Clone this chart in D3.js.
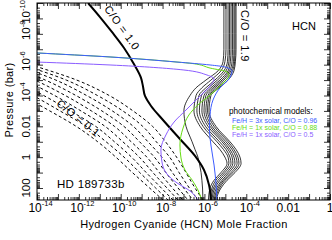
<!DOCTYPE html>
<html>
<head>
<meta charset="utf-8">
<script src="https://cdn.jsdelivr.net/npm/d3@7"></script>
<style>
  body { margin: 0; background: #fff; }
  text { font-family: "Liberation Sans", Arial, Helvetica, sans-serif; fill: #000; }
</style>
</head>
<body>
<svg id="chart" width="332" height="240"></svg>
<script>
'use strict';

// all values are log10: mole fraction (x) and pressure in bar (y)

// thermochemical profiles, C/O = 1.1 ... 1.9 (thin solid), on a shared pressure grid
var solidLogP = [-10, -8, -7, -6.2, -5.6, -5, -4.5, -4, -3, -2, -1, -0.5, 0, 0.4, 1, 1.5, 2, 2.78];
var co11 = [-5.07, -5.07, -5.07, -5.11, -5.35, -5.93, -6.40, -6.69, -6.98, -6.88, -6.59, -6.45, -6.31, -6.24, -6.16, -6.12, -6.09, -6.07];
var co12 = [-4.97, -4.97, -4.97, -5.02, -5.21, -5.69, -6.12, -6.40, -6.50, -6.21, -5.59, -5.26, -5.02, -4.92, -5.21, -5.54, -5.73, -5.81];
var co13 = [-4.87, -4.87, -4.87, -4.90, -5.07, -5.50, -5.93, -6.26, -6.36, -6.07, -5.40, -5.09, -4.87, -4.83, -5.11, -5.45, -5.64, -5.73];
var co14 = [-4.80, -4.80, -4.80, -4.83, -4.97, -5.38, -5.81, -6.14, -6.24, -5.95, -5.28, -4.97, -4.78, -4.73, -5.02, -5.35, -5.57, -5.69];
var co15 = [-4.73, -4.73, -4.73, -4.76, -4.87, -5.26, -5.69, -6.02, -6.12, -5.83, -5.16, -4.87, -4.68, -4.64, -4.92, -5.26, -5.50, -5.64];
var co16 = [-4.66, -4.66, -4.66, -4.68, -4.80, -5.16, -5.59, -5.93, -6.02, -5.73, -5.07, -4.78, -4.59, -4.54, -4.83, -5.16, -5.42, -5.59];
var co17 = [-4.59, -4.59, -4.59, -4.61, -4.73, -5.07, -5.50, -5.83, -5.93, -5.64, -4.97, -4.68, -4.49, -4.44, -4.73, -5.09, -5.35, -5.54];
var co18 = [-4.54, -4.54, -4.54, -4.56, -4.66, -4.97, -5.40, -5.76, -5.85, -5.54, -4.87, -4.59, -4.40, -4.35, -4.64, -5.02, -5.28, -5.50];
var co19 = [-4.49, -4.49, -4.49, -4.52, -4.59, -4.87, -5.30, -5.69, -5.78, -5.45, -4.78, -4.49, -4.30, -4.25, -4.54, -4.92, -5.21, -5.45];

// C/O = 0.1 ... 0.9 (dashed)
var dashLogP = [-7, -6, -5, -4, -3, -2, -1, 0, 1, 2, 2.78];
var co01 = [-18.70, -17.40, -16.10, -14.74, -13.39, -12.13, -11.10, -10.23, -9.44, -8.62, -7.98];
var co02 = [-18.44, -17.01, -15.60, -14.19, -12.90, -11.65, -10.70, -9.84, -9.09, -8.33, -7.74];
var co03 = [-18.18, -16.63, -15.10, -13.68, -12.40, -11.20, -10.30, -9.48, -8.78, -8.06, -7.50];
var co04 = [-17.91, -16.24, -14.60, -13.16, -11.90, -10.75, -9.90, -9.11, -8.46, -7.79, -7.26];
var co05 = [-17.65, -15.85, -14.10, -12.65, -11.40, -10.30, -9.50, -8.75, -8.15, -7.53, -7.03];
var co06 = [-17.39, -15.46, -13.60, -12.14, -10.90, -9.85, -9.10, -8.39, -7.84, -7.26, -6.79];
var co07 = [-17.13, -15.08, -13.10, -11.63, -10.40, -9.40, -8.70, -8.03, -7.53, -6.99, -6.55];
var co08 = [-16.86, -14.69, -12.60, -11.11, -9.90, -8.95, -8.30, -7.66, -7.21, -6.72, -6.31];
var co09 = [-16.60, -14.30, -12.10, -10.55, -9.41, -8.48, -7.86, -7.33, -6.88, -6.45, -6.07];

// C/O = 1.0 (thick), [logX, logP]
var co10 = [[-11.56, -10], [-10.99, -9.09], [-10.42, -8.12], [-9.84, -7.08], [-9.37, -6.04], [-9.03, -5.14],
  [-8.94, -4.62], [-8.84, -3.97], [-8.55, -3.32], [-7.98, -2.41], [-7.17, -1.18], [-6.45, -0.08],
  [-6.02, 0.83], [-5.78, 1.80], [-5.69, 2.78]];

// photochemical models, [logX, logP]
var photo3xSolar096 = [[-14.81, -6.82], [-14.0, -6.76], [-10.51, -6.50], [-7.31, -6.17], [-5.73, -5.98], [-5.02, -5.85],
  [-4.68, -5.59], [-4.83, -5.07], [-5.26, -4.49], [-5.59, -3.71], [-5.73, -2.74], [-5.76, -1.76], [-5.69, -0.79],
  [-5.54, 0.51], [-5.45, 1.67], [-5.40, 2.78]];
var photo1xSolar088 = [[-14.81, -6.82], [-14.0, -6.76], [-10.51, -6.50], [-7.31, -6.17], [-6.55, -6.07], [-5.73, -5.78],
  [-4.92, -5.53], [-4.83, -5.27], [-5.16, -4.75], [-5.73, -4.03], [-6.31, -3.39], [-6.74, -2.74], [-7.02, -1.89],
  [-7.17, -0.79], [-7.12, 0.05], [-6.93, 0.83], [-6.59, 1.48], [-6.31, 2.13], [-6.12, 2.78]];
var photo1xSolar05 = [[-14.81, -6.21], [-14.0, -6.17], [-10.51, -5.98], [-7.02, -5.66], [-5.88, -5.33], [-5.54, -5.07],
  [-5.73, -4.62], [-6.26, -3.90], [-6.88, -3.06], [-7.45, -2.28], [-7.84, -1.44], [-8.08, -0.47], [-8.03, 0.31],
  [-7.79, 1.09], [-7.31, 1.67], [-6.69, 2.19], [-6.31, 2.78]];

var legendLabels = ['Fe/H = 3x solar, C/O = 0.96', 'Fe/H = 1x solar, C/O = 0.88', 'Fe/H = 1x solar, C/O = 0.5'];
var legendColors = ['#3d5cff', '#66dd11', '#8a5cff'];

var xLabelExps = [-14, -12, -10, -8, -6, -4, -2, 0];
var yLabelExps = [2, 0, -2, -4, -6, -8, -10];

//---------------------------------------------------------------------------------------------------------------

var svg = d3.select('#chart');
var plotLeft = 37, plotRight = 330, plotTop = 3, plotBottom = 200;

var x = d3.scaleLog().domain([1e-14, 1]).range([plotLeft, plotRight]);
var y = d3.scaleLog().domain([1e-10, 600]).range([plotTop, plotBottom]);

svg.append('clipPath').attr('id', 'plot')
  .append('rect').attr('x', plotLeft).attr('y', plotTop)
  .attr('width', plotRight - plotLeft).attr('height', plotBottom - plotTop);

var line = d3.line()
  .x(function(d) { return x(Math.pow(10, d[0])); })
  .y(function(d) { return y(Math.pow(10, d[1])); })
  .curve(d3.curveMonotoneY);

function onGrid(xs, ps) {
  return xs.map(function(v, i) { return [v, ps[i]]; });
}

var plot = svg.append('g').attr('clip-path', 'url(#plot)');

[co01, co02, co03, co04, co05, co06, co07, co08, co09].forEach(function(s) {
  plot.append('path').attr('d', line(onGrid(s, dashLogP)))
    .attr('fill', 'none').attr('stroke', '#000').attr('stroke-width', 1)
    .attr('stroke-dasharray', '3,2.5');
});

plot.append('path').attr('d', line(co10))
  .attr('fill', 'none').attr('stroke', '#000').attr('stroke-width', 2);

[co11, co12, co13, co14, co15, co16, co17, co18, co19].forEach(function(s) {
  plot.append('path').attr('d', line(onGrid(s, solidLogP)))
    .attr('fill', 'none').attr('stroke', '#000').attr('stroke-width', 0.8);
});

[[photo1xSolar088, 1], [photo1xSolar05, 2], [photo3xSolar096, 0]].forEach(function(p) {
  plot.append('path').attr('d', line(p[0]))
    .attr('fill', 'none').attr('stroke', legendColors[p[1]]).attr('stroke-width', 1);
});

// axes: log ticks on all four sides, pointing inward
function logTicks(lo, hi, max) {
  var major = [], minor = [];
  for (var e = lo; e <= hi; e++) {
    major.push(Math.pow(10, e));
    for (var k = 2; k < 10; k++) {
      var v = k * Math.pow(10, e);
      if (v < max) minor.push(v);
    }
  }
  return {major: major, minor: minor};
}

var xt = logTicks(-14, 0, 1);
var yt = logTicks(-10, 2, 600);

function axis(gen, scale, values, size, tx, ty) {
  svg.append('g')
    .attr('transform', 'translate(' + tx + ',' + ty + ')')
    .call(gen(scale).tickValues(values).tickSize(-size).tickFormat(''))
    .call(function(g) { g.select('.domain').remove(); g.selectAll('line').attr('stroke-width', 0.8); });
}

axis(d3.axisBottom, x, xt.major, 6, 0, plotBottom);
axis(d3.axisBottom, x, xt.minor, 3, 0, plotBottom);
axis(d3.axisTop, x, xt.major, 6, 0, plotTop);
axis(d3.axisTop, x, xt.minor, 3, 0, plotTop);
axis(d3.axisLeft, y, yt.major, 6, plotLeft, 0);
axis(d3.axisLeft, y, yt.minor, 3, plotLeft, 0);
axis(d3.axisRight, y, yt.major, 6, plotRight, 0);
axis(d3.axisRight, y, yt.minor, 3, plotRight, 0);

svg.append('rect').attr('x', plotLeft).attr('y', plotTop)
  .attr('width', plotRight - plotLeft).attr('height', plotBottom - plotTop)
  .attr('fill', 'none').attr('stroke', '#000').attr('stroke-width', 1);

// tick labels: exponent labels sit a little past their tick, as in the original
function powerLabel(t, e) {
  if (e === 0) { t.text('1'); return; }
  if (e === -2) { t.text('0.01'); return; }
  if (e === 2) { t.text('100'); return; }
  t.attr('x', 3.5);
  t.append('tspan').text('10');
  t.append('tspan').attr('dy', -5.5).attr('font-size', 7.5).text('-' + Math.abs(e));
}

xLabelExps.forEach(function(e) {
  var g = svg.append('g').attr('transform', 'translate(' + x(Math.pow(10, e)) + ',211.5)');
  var t = g.append('text').attr('text-anchor', 'middle').attr('font-size', 12);
  powerLabel(t, e);
});

yLabelExps.forEach(function(e) {
  var yy = Math.max(y(Math.pow(10, e)), 15.5);
  var g = svg.append('g').attr('transform', 'translate(30,' + yy + ') rotate(-90)');
  var t = g.append('text').attr('text-anchor', 'middle').attr('font-size', 11.5);
  powerLabel(t, e);
});

svg.append('text').attr('x', 184).attr('y', 228).attr('text-anchor', 'middle')
  .attr('font-size', 11).attr('letter-spacing', 0.35).text('Hydrogen Cyanide (HCN) Mole Fraction');
svg.append('text').attr('transform', 'translate(13,100) rotate(-90)').attr('text-anchor', 'middle')
  .attr('font-size', 11).attr('letter-spacing', 0.35).text('Pressure (bar)');

// annotations
svg.append('text').attr('transform', 'translate(119,30) rotate(54)').attr('text-anchor', 'middle')
  .attr('font-size', 11).attr('letter-spacing', 0.5).text('C/O = 1.0');
svg.append('text').attr('transform', 'translate(241,36) rotate(90)').attr('text-anchor', 'middle')
  .attr('font-size', 11).attr('letter-spacing', 0.5).text('C/O = 1.9');
svg.append('text').attr('transform', 'translate(76,121) rotate(39)').attr('text-anchor', 'middle')
  .attr('font-size', 11).attr('letter-spacing', 0.5).text('C/O = 0.1');
svg.append('text').attr('x', 292).attr('y', 30).attr('font-size', 11).text('HCN');
svg.append('text').attr('x', 57).attr('y', 187.5).attr('font-size', 11.5).attr('letter-spacing', 0.3).text('HD 189733b');

svg.append('text').attr('x', 229).attr('y', 114).attr('font-size', 8.2).text('photochemical models:');
legendLabels.forEach(function(s, i) {
  svg.append('text').attr('x', 232).attr('y', 122.5 + i * 7.1).attr('font-size', 7)
    .style('fill', legendColors[i]).text(s);
});
</script>
</body>
</html>
